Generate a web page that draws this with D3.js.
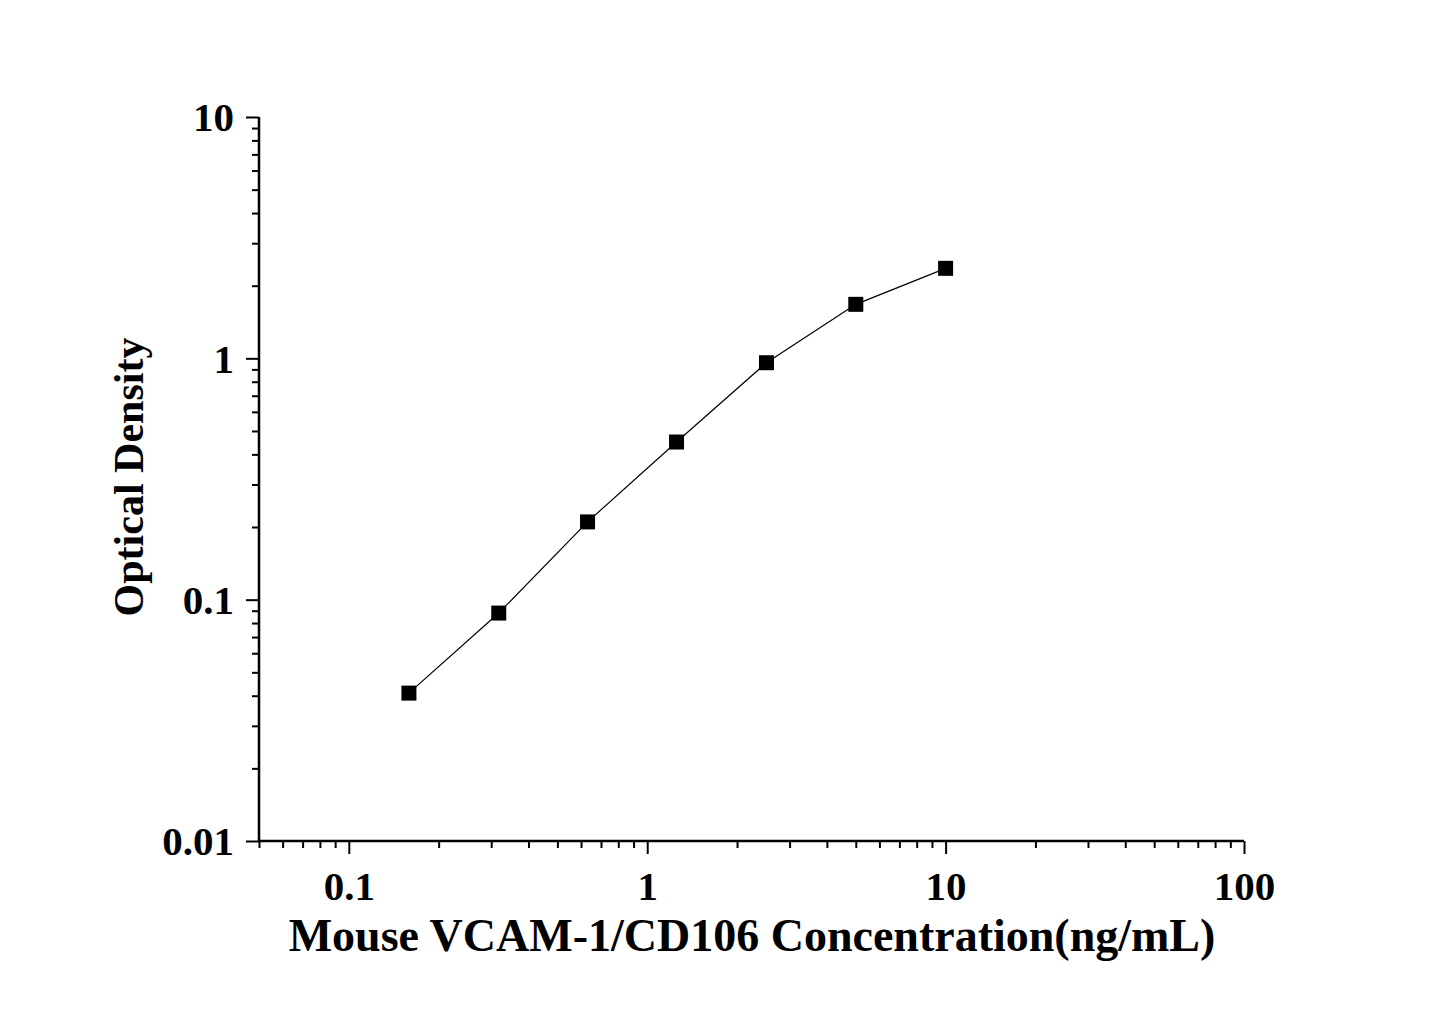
<!DOCTYPE html>
<html>
<head>
<meta charset="utf-8">
<script src="https://cdn.jsdelivr.net/npm/d3@7"></script>
<style>
  html, body { margin: 0; padding: 0; background: #fff; }
  svg text { font-family: "Liberation Serif", "Times New Roman", serif; font-weight: bold; fill: #000; }
</style>
</head>
<body>
<script>
//////////////////////////////////////////////////////////////////////////////
// Data

var concentration = [0.159, 0.318, 0.631, 1.254, 2.51, 5, 10];
var density = [0.041, 0.088, 0.210, 0.450, 0.959, 1.674, 2.36];

var xTicks = [0.1, 1, 10, 100];
var xTickLabels = ["0.1", "1", "10", "100"];
var yTicks = [0.01, 0.1, 1, 10];
var yTickLabels = ["0.01", "0.1", "1", "10"];

var xTitle = "Mouse VCAM-1/CD106 Concentration(ng/mL)";
var yTitle = "Optical Density";

//////////////////////////////////////////////////////////////////////////////

var width = 1445, height = 1009;

var xScale = d3.scaleLog().domain([0.05, 100]).range([259, 1244]);
var yScale = d3.scaleLog().domain([0.01, 10]).range([841, 117]);

function minorTicks(scale) {
    var d = scale.domain(), out = [];
    var lo = Math.floor(Math.log10(d[0])), hi = Math.ceil(Math.log10(d[1]));
    for (var e = lo; e < hi; e++) {
        for (var m = 2; m <= 9; m++) {
            var v = m * Math.pow(10, e);
            if (v >= d[0] * 0.999 && v <= d[1] * 1.001) out.push(v);
        }
    }
    return out;
}

var svg = d3.select("body")
    .append("svg")
    .attr("width", width)
    .attr("height", height);

// x axis
var gx = svg.append("g").attr("transform", "translate(0," + yScale.range()[0] + ")");
gx.call(d3.axisBottom(xScale).tickValues(minorTicks(xScale)).tickSize(7).tickFormat(""));
gx.append("g").call(d3.axisBottom(xScale).tickValues(xTicks).tickSize(13)
    .tickFormat(function(d, i) { return xTickLabels[i]; }));

// y axis
var gy = svg.append("g").attr("transform", "translate(" + xScale.range()[0] + ",0)");
gy.call(d3.axisLeft(yScale).tickValues(minorTicks(yScale)).tickSize(7).tickFormat(""));
gy.append("g").call(d3.axisLeft(yScale).tickValues(yTicks).tickSize(13)
    .tickFormat(function(d, i) { return yTickLabels[i]; }));

svg.selectAll("g > g > .domain").remove();
svg.selectAll(".domain").attr("stroke", "#000").attr("stroke-width", 2.5);
svg.selectAll(".tick line").attr("stroke", "#000").attr("stroke-width", 2);

gx.select(".domain").attr("d", "M" + xScale.range()[0] + ",0H" + xScale.range()[1]);
gy.select(".domain").attr("d", "M0," + yScale.range()[0] + "V" + yScale.range()[1]);

gx.selectAll(".tick text")
    .attr("font-size", 41)
    .attr("y", 0)
    .attr("dy", 0)
    .attr("transform", "translate(0,59)");

gy.selectAll(".tick text")
    .attr("font-size", 41)
    .attr("x", -25)
    .attr("dy", "0.34em");

// titles
svg.append("text")
    .attr("x", (291 + 1213) / 2)
    .attr("y", 951)
    .attr("text-anchor", "middle")
    .attr("font-size", 46)
    .text(xTitle);

svg.append("text")
    .attr("transform", "translate(143,477) rotate(-90)")
    .attr("text-anchor", "middle")
    .attr("font-size", 42)
    .text(yTitle);

// curve
var points = concentration.map(function(c, i) { return [c, density[i]]; });

svg.append("path")
    .datum(points)
    .attr("fill", "none")
    .attr("stroke", "#000")
    .attr("stroke-width", 1.2)
    .attr("d", d3.line()
        .x(function(d) { return xScale(d[0]); })
        .y(function(d) { return yScale(d[1]); }));

svg.append("g")
    .selectAll("rect")
    .data(points)
    .enter()
    .append("rect")
    .attr("x", function(d) { return xScale(d[0]) - 7.5; })
    .attr("y", function(d) { return yScale(d[1]) - 7.5; })
    .attr("width", 15)
    .attr("height", 15)
    .attr("fill", "#000");
</script>
</body>
</html>
